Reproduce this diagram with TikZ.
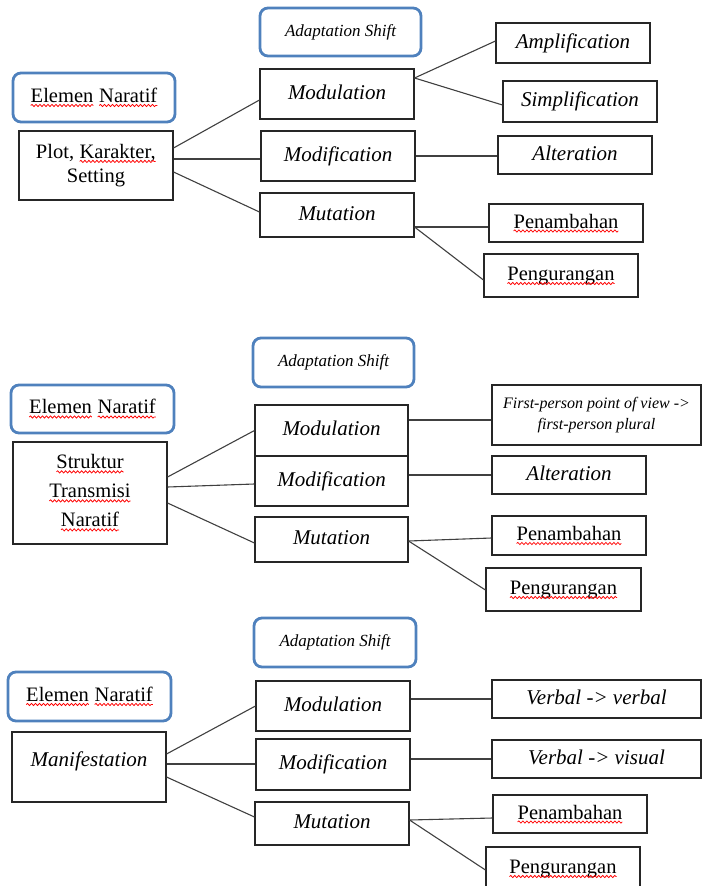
\documentclass[tikz,border=0pt]{standalone}
\usepackage{fontspec}
\setmainfont{Liberation Serif}
\usetikzlibrary{decorations.pathmorphing}
\definecolor{shiftblue}{RGB}{79,129,189}
\newcommand{\spell}[1]{\tikz[baseline=(w.base)]{\node[draw=none,fill=none,rectangle,sharp corners,inner sep=0pt,outer sep=0pt,minimum width=0pt,minimum height=0pt,text height=,text depth=] (w) {#1};
  \draw[red,line width=.75pt,sharp corners,decorate,decoration={snake,amplitude=1.1pt,segment length=4pt}] ([yshift=-3pt]w.base west) -- ([yshift=-3pt]w.base east);}}

\begin{document}
\begin{tikzpicture}[x=1pt, y=-1pt,
    box/.style={draw=black!85, line width=1.1pt, minimum width=154pt, inner sep=2pt, text height=14pt, text depth=4pt, font=\fontsize{20.5}{24}\selectfont},
    ibox/.style={box, font=\itshape\fontsize{21}{24}\selectfont},
    shiftbox/.style={draw=shiftblue, line width=2.8pt, rounded corners=8pt, minimum width=161pt, minimum height=48pt, font=\itshape\fontsize{17}{20}\selectfont},
    elembox/.style={shiftbox, minimum width=162pt, font=\fontsize{20.5}{24}\selectfont},
    link/.style={draw=black!75, line width=1.1pt}]
  \useasboundingbox (0,0) rectangle (702,886);

  % plot, karakter, setting
  \node[shiftbox] (shiftA) at (340.5,32) {Adaptation Shift};
  \node[elembox, minimum height=49pt] (elemA) at (94,97.5) {\spell{Elemen} \spell{Naratif}};
  \node[box, minimum height=69pt, align=center, text height=, text depth=] (plotA) at (96,165.5) {Plot, \spell{Karakter,}\\Setting};
  \node[ibox, minimum height=50pt] (modulA) at (337,94) {Modulation};
  \node[ibox, minimum height=50pt] (modifA) at (338,156) {Modification};
  \node[ibox, minimum height=44pt] (mutA) at (337,215) {Mutation};
  \node[ibox, minimum height=40pt] (amplA) at (573,43) {Amplification};
  \node[ibox, minimum height=41pt] (simpA) at (580,101.5) {Simplification};
  \node[ibox, minimum height=38pt] (altA) at (575,155) {Alteration};
  \node[box, minimum height=38pt] (penamA) at (566,223) {\spell{Penambahan}};
  \node[box, minimum height=43pt] (pengA) at (561,275.5) {\spell{Pengurangan}};
  \draw[link] ([yshift=17.5pt]plotA.east) -- ([yshift=-6pt]modulA.west);
  \draw[link] ([yshift=6.5pt]plotA.east) -- ([yshift=-3pt]modifA.west);
  \draw[link] ([yshift=-6.5pt]plotA.east) -- ([yshift=3pt]mutA.west);
  \draw[link] ([yshift=16pt]modulA.east) -- ([yshift=2pt]amplA.west);
  \draw[link] ([yshift=16pt]modulA.east) -- ([yshift=-3.5pt]simpA.west);
  \draw[link] (modifA.east) -- (modifA.east -| altA.west);
  \draw[link] ([yshift=-12pt]mutA.east) -- ([yshift=-4pt]penamA.west);
  \draw[link] ([yshift=-12pt]mutA.east) -- ([yshift=-4.5pt]pengA.west);

  % struktur transmisi naratif
  \node[shiftbox, minimum height=49pt] (shiftB) at (333.5,362.5) {Adaptation Shift};
  \node[elembox, minimum width=163pt] (elemB) at (92.5,409) {\spell{Elemen} \spell{Naratif}};
  \node[box, minimum height=102pt, align=center, text height=, text depth=, font=\fontsize{20.5}{29}\selectfont] (strukB) at (90,493) {\spell{Struktur}\\\spell{Transmisi}\\\spell{Naratif}};
  \node[ibox, minimum width=153pt, minimum height=51pt] (modulB) at (331.5,430.5) {Modulation};
  \node[ibox, minimum width=153pt, minimum height=50pt] (modifB) at (331.5,481) {Modification};
  \node[ibox, minimum width=153pt, minimum height=45pt] (mutB) at (331.5,539.5) {Mutation};
  \node[box, minimum width=209pt, minimum height=60pt, align=center, text height=, text depth=, font=\itshape\fontsize{16}{21}\selectfont] (firstB) at (596.5,415) {First-person point of view ->\\first-person plural};
  \node[ibox, minimum height=38pt] (altB) at (569,475) {Alteration};
  \node[box, minimum height=39pt] (penamB) at (569,535.5) {\spell{Penambahan}};
  \node[box, minimum width=155pt, minimum height=43pt] (pengB) at (563.5,589.5) {\spell{Pengurangan}};
  \draw[link] ([yshift=16pt]strukB.east) -- (modulB.west);
  \draw[link] ([yshift=6pt]strukB.east) -- ([yshift=-3pt]modifB.west);
  \draw[link] ([yshift=-10pt]strukB.east) -- ([yshift=-3.5pt]mutB.west);
  \draw[link] ([yshift=10.5pt]modulB.east) -- ([yshift=10.5pt]modulB.east -| firstB.west);
  \draw[link] ([yshift=6pt]modifB.east) -- ([yshift=6pt]modifB.east -| altB.west);
  \draw[link] ([yshift=-1.5pt]mutB.east) -- ([yshift=-2.5pt]penamB.west);
  \draw[link] ([yshift=-1.5pt]mutB.east) -- ([yshift=-0.5pt]pengB.west);

  % manifestation
  \node[shiftbox, minimum width=162pt, minimum height=49pt] (shiftC) at (335,642.5) {Adaptation Shift};
  \node[elembox, minimum width=163pt, minimum height=49pt] (elemC) at (89.5,696.5) {\spell{Elemen} \spell{Naratif}};
  \node[ibox, minimum height=70pt, text depth=16pt] (maniC) at (89,767) {Manifestation};
  \node[ibox, minimum height=50pt] (modulC) at (333,706) {Modulation};
  \node[ibox, minimum height=51pt] (modifC) at (333,764.5) {Modification};
  \node[ibox, minimum height=43pt] (mutC) at (332,823.5) {Mutation};
  \node[ibox, minimum width=209pt, minimum height=38pt] (verbC1) at (596.5,699) {Verbal -> verbal};
  \node[ibox, minimum width=209pt, minimum height=38pt] (verbC2) at (596.5,759) {Verbal -> visual};
  \node[box, minimum height=38pt] (penamC) at (570,814) {\spell{Penambahan}};
  \node[box, minimum height=43pt] (pengC) at (563,868.5) {\spell{Pengurangan}};
  \draw[link] ([yshift=13pt]maniC.east) -- (modulC.west);
  \draw[link] ([yshift=3pt]maniC.east) -- ([yshift=3pt]maniC.east -| modifC.west);
  \draw[link] ([yshift=-10pt]maniC.east) -- ([yshift=6.5pt]mutC.west);
  \draw[link] ([yshift=7pt]modulC.east) -- ([yshift=7pt]modulC.east -| verbC1.west);
  \draw[link] ([yshift=5.5pt]modifC.east) -- ([yshift=5.5pt]modifC.east -| verbC2.west);
  \draw[link] ([yshift=3.5pt]mutC.east) -- ([yshift=-4pt]penamC.west);
  \draw[link] ([yshift=3.5pt]mutC.east) -- ([yshift=-1.5pt]pengC.west);
\end{tikzpicture}
\end{document}
